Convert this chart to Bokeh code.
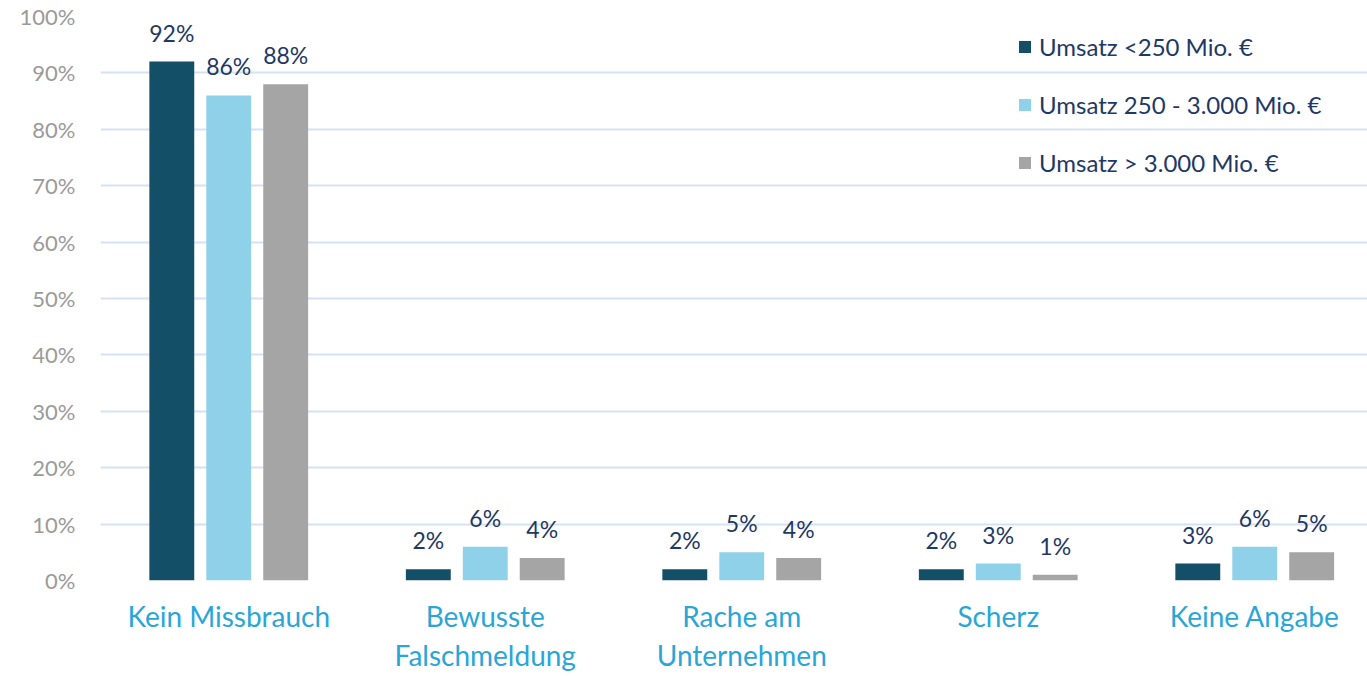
from bokeh.plotting import figure
from bokeh.models import (ColumnDataSource, Range1d, FixedTicker, Legend, LegendItem)
from bokeh.transform import dodge
from bokeh.embed import file_html
from bokeh.resources import INLINE
from bokeh.core.properties import value

categories = ["Kein Missbrauch", "Bewusste\nFalschmeldung", "Rache am\nUnternehmen", "Scherz", "Keine Angabe"]
series_names = ["Umsatz <250 Mio. €", "Umsatz 250 - 3.000 Mio. €", "Umsatz > 3.000 Mio. €"]
small = [92, 2, 2, 2, 3]
medium = [86, 6, 5, 3, 6]
large = [88, 4, 4, 1, 5]
y_ticks = [0, 10, 20, 30, 40, 50, 60, 70, 80, 90, 100]

colors = ["#134f67", "#8fd1e8", "#a5a5a5"]
FONT = "Lato"

pos = list(range(len(categories)))
src = ColumnDataSource(dict(
    pos=pos, small=small, medium=medium, large=large,
    small_l=[f"{v}%" for v in small],
    medium_l=[f"{v}%" for v in medium],
    large_l=[f"{v}%" for v in large],
))

p = figure(width=1367, height=676, output_backend="svg", toolbar_location=None,
           x_range=Range1d(-0.5, 4.4396), y_range=Range1d(0, 100),
           min_border_left=100, min_border_top=16, min_border_right=0, min_border_bottom=96)
p.outline_line_color = None
p.background_fill_color = "white"
p.border_fill_color = "white"

offsets = [-0.222, 0.0, 0.222]
cols = ["small", "medium", "large"]
renderers = []
for off, col, c in zip(offsets, cols, colors):
    r = p.vbar(x=dodge("pos", off, range=p.x_range), top=col, width=0.175, bottom=0,
               source=src, fill_color=c, line_color=None)
    renderers.append(r)
    p.text(x=dodge("pos", off, range=p.x_range), y=col, text=col + "_l", source=src,
           text_align="center", text_baseline="alphabetic", y_offset=-29,
           text_font=value(FONT), text_font_size="23px", text_color="#1f3864")

# grid
p.xgrid.visible = False
p.ygrid.grid_line_color = "#d6e1f3"
p.ygrid.grid_line_width = 2
p.ygrid.ticker = FixedTicker(ticks=y_ticks)

# y axis
p.yaxis.ticker = FixedTicker(ticks=y_ticks)
p.yaxis.major_label_overrides = {t: f"{t}%" for t in y_ticks}
p.yaxis.axis_line_color = None
p.yaxis.major_tick_line_color = None
p.yaxis.minor_tick_line_color = None
p.yaxis.major_tick_out = 0
p.yaxis.major_tick_in = 0
p.yaxis.major_label_text_font = FONT
p.yaxis.major_label_text_font_size = "22px"
p.yaxis.major_label_text_color = "#9a9a9a"
p.yaxis.major_label_standoff = 25

# x axis
p.xaxis.ticker = FixedTicker(ticks=pos)
p.xaxis.major_label_overrides = {i: c for i, c in zip(pos, categories)}
p.xaxis.axis_line_color = None
p.xaxis.major_tick_line_color = None
p.xaxis.minor_tick_line_color = None
p.xaxis.major_tick_out = 0
p.xaxis.major_tick_in = 0
p.xaxis.major_label_text_font = FONT
p.xaxis.major_label_text_font_size = "28px"
p.xaxis.major_label_text_line_height = 1.15
p.xaxis.major_label_text_color = "#2aa6d6"
p.xaxis.major_label_standoff = 18

legend = Legend(items=[LegendItem(label=n, renderers=[r]) for n, r in zip(series_names, renderers)],
                location=(917, 403), padding=0, margin=0, spacing=29,
                label_height=24, glyph_height=15, glyph_width=15, label_standoff=7,
                label_text_font=FONT, label_text_font_size="24px", label_text_color="#1f3864",
                background_fill_alpha=0, border_line_alpha=0)
p.add_layout(legend, "center")

open("out.html", "w").write(file_html(p, INLINE))
